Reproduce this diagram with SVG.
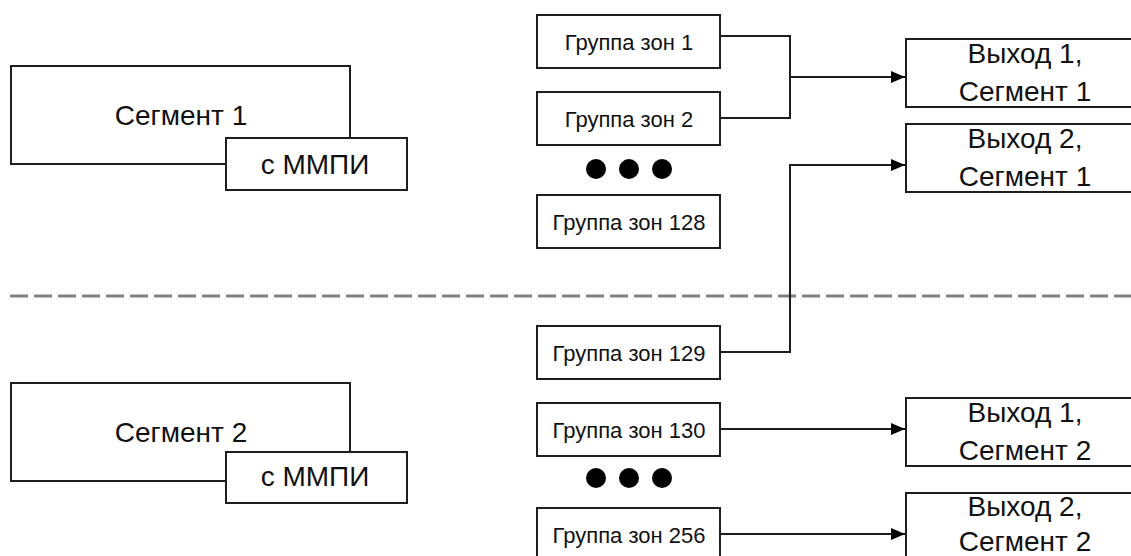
<svg xmlns="http://www.w3.org/2000/svg" width="1131" height="556" viewBox="0 0 1131 556">
<defs>
<style>
.box{fill:#fff;stroke:#1e1e1e;stroke-width:2}
.big{font-family:"Liberation Sans",Arial,sans-serif;font-size:28px;fill:#111;text-anchor:middle}
.small{font-family:"Liberation Sans",Arial,sans-serif;font-size:22px;fill:#111;text-anchor:middle}
.wire{fill:none;stroke:#1e1e1e;stroke-width:2}
.dot{fill:#000}
</style>
<marker id="arr" markerWidth="14" markerHeight="14" viewBox="0 0 14 14" refX="14" refY="7" orient="auto" markerUnits="userSpaceOnUse">
<path d="M0,1 L14,7 L0,13 Z" fill="#000"/>
</marker>
</defs>
<rect width="1131" height="556" fill="#fff"/>

<line x1="10" y1="296" x2="1131" y2="296" stroke="#7f7f7f" stroke-width="3" stroke-dasharray="18 6"/>

<g id="segment1">
<rect class="box" x="11" y="66" width="339" height="98"/>
<text class="big" x="181" y="125">Сегмент 1</text>
</g>
<g id="mmpi1">
<rect class="box" x="226" y="138" width="181" height="52"/>
<text class="big" x="315" y="174">с ММПИ</text>
</g>
<g id="segment2">
<rect class="box" x="11" y="383" width="339" height="98"/>
<text class="big" x="181" y="442">Сегмент 2</text>
</g>
<g id="mmpi2">
<rect class="box" x="226" y="452" width="181" height="51"/>
<text class="big" x="315" y="486">с ММПИ</text>
</g>

<g id="zone1">
<rect class="box" x="537" y="15" width="183" height="53"/>
<text class="small" x="629" y="50">Группа зон 1</text>
</g>
<g id="zone2">
<rect class="box" x="537" y="92" width="183" height="53"/>
<text class="small" x="629" y="127">Группа зон 2</text>
</g>
<g id="dots1">
<circle class="dot" cx="596" cy="169" r="10"/>
<circle class="dot" cx="629" cy="169" r="10"/>
<circle class="dot" cx="662" cy="169" r="10"/>
</g>
<g id="zone128">
<rect class="box" x="537" y="195" width="183" height="53"/>
<text class="small" x="629" y="230">Группа зон 128</text>
</g>
<g id="zone129">
<rect class="box" x="537" y="326" width="183" height="53"/>
<text class="small" x="629" y="361">Группа зон 129</text>
</g>
<g id="zone130">
<rect class="box" x="537" y="403" width="183" height="53"/>
<text class="small" x="629" y="438">Группа зон 130</text>
</g>
<g id="dots2">
<circle class="dot" cx="596" cy="478" r="10"/>
<circle class="dot" cx="629" cy="478" r="10"/>
<circle class="dot" cx="662" cy="478" r="10"/>
</g>
<g id="zone256">
<rect class="box" x="537" y="508" width="183" height="53"/>
<text class="small" x="629" y="543">Группа зон 256</text>
</g>

<g id="out1seg1">
<rect class="box" x="906" y="39" width="240" height="68"/>
<text class="big" x="1025" y="63">Выход 1,</text>
<text class="big" x="1025" y="101">Сегмент 1</text>
</g>
<g id="out2seg1">
<rect class="box" x="906" y="124" width="240" height="68"/>
<text class="big" x="1025" y="148">Выход 2,</text>
<text class="big" x="1025" y="186">Сегмент 1</text>
</g>
<g id="out1seg2">
<rect class="box" x="906" y="398" width="240" height="68"/>
<text class="big" x="1025" y="422">Выход 1,</text>
<text class="big" x="1025" y="460">Сегмент 2</text>
</g>
<g id="out2seg2">
<rect class="box" x="906" y="493" width="240" height="68"/>
<text class="big" x="1025" y="516">Выход 2,</text>
<text class="big" x="1025" y="551">Сегмент 2</text>
</g>

<g id="connectors">
<path class="wire" d="M720,36 H790 V118 H720"/>
<path class="wire" d="M790,77 H905" marker-end="url(#arr)"/>
<path class="wire" d="M720,352 H790 V165 H905" marker-end="url(#arr)"/>
<path class="wire" d="M720,429 H905" marker-end="url(#arr)"/>
<path class="wire" d="M720,534 H905" marker-end="url(#arr)"/>
</g>
</svg>
